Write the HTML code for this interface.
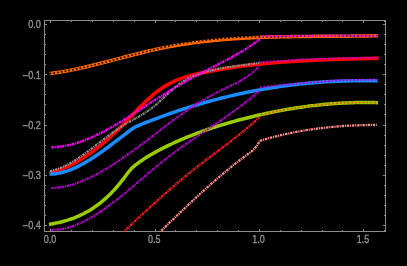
<!DOCTYPE html>
<html><head><meta charset="utf-8"><style>
html,body{margin:0;padding:0;background:#000;width:407px;height:266px;overflow:hidden}
svg{display:block}
text{font-family:"Liberation Sans",sans-serif;font-size:10.2px;fill:#8c8c8c;stroke:#8c8c8c;stroke-width:0.4}
</style></head><body>
<svg width="407" height="266" viewBox="0 0 407 266">
<rect width="407" height="266" fill="#000"/>
<g stroke="#8c8c8c" stroke-width="1" fill="none">
<rect x="44.5" y="20.5" width="341.0" height="211.0"/>
<line x1="50.5" y1="231.5" x2="50.5" y2="229.0"/>
<line x1="50.5" y1="20.5" x2="50.5" y2="23.0"/>
<line x1="71.5" y1="231.5" x2="71.5" y2="230.0"/>
<line x1="71.5" y1="20.5" x2="71.5" y2="22.0"/>
<line x1="92.5" y1="231.5" x2="92.5" y2="230.0"/>
<line x1="92.5" y1="20.5" x2="92.5" y2="22.0"/>
<line x1="113.5" y1="231.5" x2="113.5" y2="230.0"/>
<line x1="113.5" y1="20.5" x2="113.5" y2="22.0"/>
<line x1="134.5" y1="231.5" x2="134.5" y2="230.0"/>
<line x1="134.5" y1="20.5" x2="134.5" y2="22.0"/>
<line x1="155.5" y1="231.5" x2="155.5" y2="229.0"/>
<line x1="155.5" y1="20.5" x2="155.5" y2="23.0"/>
<line x1="175.5" y1="231.5" x2="175.5" y2="230.0"/>
<line x1="175.5" y1="20.5" x2="175.5" y2="22.0"/>
<line x1="196.5" y1="231.5" x2="196.5" y2="230.0"/>
<line x1="196.5" y1="20.5" x2="196.5" y2="22.0"/>
<line x1="217.5" y1="231.5" x2="217.5" y2="230.0"/>
<line x1="217.5" y1="20.5" x2="217.5" y2="22.0"/>
<line x1="238.5" y1="231.5" x2="238.5" y2="230.0"/>
<line x1="238.5" y1="20.5" x2="238.5" y2="22.0"/>
<line x1="259.5" y1="231.5" x2="259.5" y2="229.0"/>
<line x1="259.5" y1="20.5" x2="259.5" y2="23.0"/>
<line x1="280.5" y1="231.5" x2="280.5" y2="230.0"/>
<line x1="280.5" y1="20.5" x2="280.5" y2="22.0"/>
<line x1="301.5" y1="231.5" x2="301.5" y2="230.0"/>
<line x1="301.5" y1="20.5" x2="301.5" y2="22.0"/>
<line x1="322.5" y1="231.5" x2="322.5" y2="230.0"/>
<line x1="322.5" y1="20.5" x2="322.5" y2="22.0"/>
<line x1="342.5" y1="231.5" x2="342.5" y2="230.0"/>
<line x1="342.5" y1="20.5" x2="342.5" y2="22.0"/>
<line x1="363.5" y1="231.5" x2="363.5" y2="229.0"/>
<line x1="363.5" y1="20.5" x2="363.5" y2="23.0"/>
<line x1="384.5" y1="231.5" x2="384.5" y2="230.0"/>
<line x1="384.5" y1="20.5" x2="384.5" y2="22.0"/>
<line x1="44.5" y1="225.5" x2="47.0" y2="225.5"/>
<line x1="385.5" y1="225.5" x2="383.0" y2="225.5"/>
<line x1="44.5" y1="215.5" x2="46.0" y2="215.5"/>
<line x1="385.5" y1="215.5" x2="384.0" y2="215.5"/>
<line x1="44.5" y1="205.5" x2="46.0" y2="205.5"/>
<line x1="385.5" y1="205.5" x2="384.0" y2="205.5"/>
<line x1="44.5" y1="195.5" x2="46.0" y2="195.5"/>
<line x1="385.5" y1="195.5" x2="384.0" y2="195.5"/>
<line x1="44.5" y1="185.5" x2="46.0" y2="185.5"/>
<line x1="385.5" y1="185.5" x2="384.0" y2="185.5"/>
<line x1="44.5" y1="175.5" x2="47.0" y2="175.5"/>
<line x1="385.5" y1="175.5" x2="383.0" y2="175.5"/>
<line x1="44.5" y1="165.5" x2="46.0" y2="165.5"/>
<line x1="385.5" y1="165.5" x2="384.0" y2="165.5"/>
<line x1="44.5" y1="155.5" x2="46.0" y2="155.5"/>
<line x1="385.5" y1="155.5" x2="384.0" y2="155.5"/>
<line x1="44.5" y1="145.5" x2="46.0" y2="145.5"/>
<line x1="385.5" y1="145.5" x2="384.0" y2="145.5"/>
<line x1="44.5" y1="135.5" x2="46.0" y2="135.5"/>
<line x1="385.5" y1="135.5" x2="384.0" y2="135.5"/>
<line x1="44.5" y1="125.5" x2="47.0" y2="125.5"/>
<line x1="385.5" y1="125.5" x2="383.0" y2="125.5"/>
<line x1="44.5" y1="114.5" x2="46.0" y2="114.5"/>
<line x1="385.5" y1="114.5" x2="384.0" y2="114.5"/>
<line x1="44.5" y1="104.5" x2="46.0" y2="104.5"/>
<line x1="385.5" y1="104.5" x2="384.0" y2="104.5"/>
<line x1="44.5" y1="94.5" x2="46.0" y2="94.5"/>
<line x1="385.5" y1="94.5" x2="384.0" y2="94.5"/>
<line x1="44.5" y1="84.5" x2="46.0" y2="84.5"/>
<line x1="385.5" y1="84.5" x2="384.0" y2="84.5"/>
<line x1="44.5" y1="74.5" x2="47.0" y2="74.5"/>
<line x1="385.5" y1="74.5" x2="383.0" y2="74.5"/>
<line x1="44.5" y1="64.5" x2="46.0" y2="64.5"/>
<line x1="385.5" y1="64.5" x2="384.0" y2="64.5"/>
<line x1="44.5" y1="54.5" x2="46.0" y2="54.5"/>
<line x1="385.5" y1="54.5" x2="384.0" y2="54.5"/>
<line x1="44.5" y1="44.5" x2="46.0" y2="44.5"/>
<line x1="385.5" y1="44.5" x2="384.0" y2="44.5"/>
<line x1="44.5" y1="34.5" x2="46.0" y2="34.5"/>
<line x1="385.5" y1="34.5" x2="384.0" y2="34.5"/>
<line x1="44.5" y1="24.5" x2="47.0" y2="24.5"/>
<line x1="385.5" y1="24.5" x2="383.0" y2="24.5"/>
</g>
<g style="will-change:transform">
<text transform="translate(49.90 242.6) scale(0.88 1)" text-anchor="middle">0.0</text>
<text transform="translate(154.25 242.6) scale(0.88 1)" text-anchor="middle">0.5</text>
<text transform="translate(258.60 242.6) scale(0.88 1)" text-anchor="middle">1.0</text>
<text transform="translate(362.95 242.6) scale(0.88 1)" text-anchor="middle">1.5</text>
<text transform="translate(40.9 28.40) scale(0.9 1)" text-anchor="end">0.0</text>
<text transform="translate(40.9 78.65) scale(0.9 1)" text-anchor="end">−0.1</text>
<text transform="translate(40.9 128.90) scale(0.9 1)" text-anchor="end">−0.2</text>
<text transform="translate(40.9 179.15) scale(0.9 1)" text-anchor="end">−0.3</text>
<text transform="translate(40.9 229.40) scale(0.9 1)" text-anchor="end">−0.4</text>
</g>
<clipPath id="pc"><rect x="44.5" y="20.5" width="341" height="211"/></clipPath>
<g clip-path="url(#pc)">
<path d="M49.60 73.62 L51.60 73.36 L53.60 73.09 L55.60 72.81 L57.60 72.51 L59.60 72.19 L61.60 71.86 L63.60 71.52 L65.60 71.16 L67.60 70.79 L69.60 70.41 L71.60 70.01 L73.60 69.61 L75.60 69.19 L77.60 68.77 L79.60 68.33 L81.60 67.89 L83.60 67.43 L85.60 66.97 L87.60 66.50 L89.60 66.03 L91.60 65.54 L93.60 65.05 L95.60 64.56 L97.60 64.06 L99.60 63.55 L101.60 63.04 L103.60 62.53 L105.60 62.01 L107.60 61.49 L109.60 60.97 L111.60 60.45 L113.60 59.92 L115.60 59.39 L117.60 58.87 L119.60 58.34 L121.60 57.82 L123.60 57.29 L125.60 56.77 L127.60 56.25 L129.60 55.73 L131.60 55.22 L133.60 54.71 L135.60 54.20 L137.60 53.70 L139.60 53.20 L141.60 52.71 L143.60 52.22 L145.60 51.74 L147.60 51.27 L149.60 50.80 L151.60 50.35 L153.60 49.90 L155.60 49.46 L157.60 49.03 L159.60 48.61 L161.60 48.20 L163.60 47.80 L165.60 47.41 L167.60 47.03 L169.60 46.65 L171.60 46.29 L173.60 45.94 L175.60 45.59 L177.60 45.25 L179.60 44.92 L181.60 44.60 L183.60 44.29 L185.60 43.98 L187.60 43.69 L189.60 43.40 L191.60 43.12 L193.60 42.85 L195.60 42.58 L197.60 42.32 L199.60 42.07 L201.60 41.83 L203.60 41.59 L205.60 41.37 L207.60 41.14 L209.60 40.93 L211.60 40.72 L213.60 40.52 L215.60 40.32 L217.60 40.14 L219.60 39.95 L221.60 39.78 L223.60 39.61 L225.60 39.44 L227.60 39.28 L229.60 39.13 L231.60 38.98 L233.60 38.84 L235.60 38.71 L237.60 38.58 L239.60 38.45 L241.60 38.33 L243.60 38.21 L245.60 38.10 L247.60 37.99 L249.60 37.89 L251.60 37.80 L253.60 37.70 L255.60 37.61 L257.60 37.53 L259.60 37.45 L261.60 37.37 L263.60 37.30 L265.60 37.23 L267.60 37.16 L269.60 37.10 L271.60 37.04 L273.60 36.99 L275.60 36.93 L277.60 36.88 L279.60 36.84 L281.60 36.79 L283.60 36.75 L285.60 36.71 L287.60 36.68 L289.60 36.64 L291.60 36.61 L293.60 36.58 L295.60 36.55 L297.60 36.53 L299.60 36.50 L301.60 36.48 L303.60 36.46 L305.60 36.44 L307.60 36.42 L309.60 36.40 L311.60 36.39 L313.60 36.37 L315.60 36.36 L317.60 36.34 L319.60 36.33 L321.60 36.32 L323.60 36.30 L325.60 36.29 L327.60 36.28 L329.60 36.27 L331.60 36.26 L333.60 36.25 L335.60 36.23 L337.60 36.22 L339.60 36.21 L341.60 36.19 L343.60 36.18 L345.60 36.16 L347.60 36.15 L349.60 36.13 L351.60 36.11 L353.60 36.09 L355.60 36.07 L357.60 36.05 L359.60 36.02 L361.60 36.00 L363.60 35.97 L365.60 35.94 L367.60 35.91 L369.60 35.87 L371.60 35.83 L373.60 35.80 L375.60 35.75 L377.60 35.71 L378.10 35.70" stroke="#ff6600" stroke-width="3.5" fill="none" stroke-linejoin="round"/>
<path d="M49.60 73.62 L51.60 73.36 L53.60 73.09 L55.60 72.81 L57.60 72.51 L59.60 72.19 L61.60 71.86 L63.60 71.52 L65.60 71.16 L67.60 70.79 L69.60 70.41 L71.60 70.01 L73.60 69.61 L75.60 69.19 L77.60 68.77 L79.60 68.33 L81.60 67.89 L83.60 67.43 L85.60 66.97 L87.60 66.50 L89.60 66.03 L91.60 65.54 L93.60 65.05 L95.60 64.56 L97.60 64.06 L99.60 63.55 L101.60 63.04 L103.60 62.53 L105.60 62.01 L107.60 61.49 L109.60 60.97 L111.60 60.45 L113.60 59.92 L115.60 59.39 L117.60 58.87 L119.60 58.34 L121.60 57.82 L123.60 57.29 L125.60 56.77 L127.60 56.25 L129.60 55.73 L131.60 55.22 L133.60 54.71 L135.60 54.20 L137.60 53.70 L139.60 53.20 L141.60 52.71 L143.60 52.22 L145.60 51.74 L147.60 51.27 L149.60 50.80 L151.60 50.28 L153.60 49.74 L155.60 49.22 L157.60 48.70 L159.60 48.20 L161.60 47.70 L163.60 47.21 L165.60 46.73 L167.60 46.27 L169.60 45.81 L171.60 45.35 L173.60 44.91 L175.60 44.48 L177.60 44.06 L179.60 43.64 L181.60 43.30 L183.60 42.99 L185.60 42.68 L187.60 42.39 L189.60 42.10 L191.60 41.82 L193.60 41.55 L195.60 41.28 L197.60 41.02 L199.60 40.77 L201.60 40.53 L203.60 40.29 L205.60 40.07 L207.60 39.84 L209.60 39.63 L211.60 39.42 L213.60 39.22 L215.60 39.02 L217.60 38.84 L219.60 38.65 L221.60 38.48 L223.60 38.31 L225.60 38.14 L227.60 37.98 L229.60 37.83 L231.60 37.68 L233.60 37.54 L235.60 37.41 L237.60 37.28 L239.60 37.15 L241.60 37.03 L243.60 36.91 L245.60 36.80 L247.60 36.69 L249.60 36.59 L251.60 36.61 L253.60 36.67 L255.60 36.72 L257.60 36.79 L259.60 36.85 L261.60 36.92 L263.60 37.00 L265.60 37.03 L267.60 36.96 L269.60 36.90 L271.60 36.84 L273.60 36.79 L275.60 36.73 L277.60 36.68 L279.60 36.64 L281.60 36.59 L283.60 36.55 L285.60 36.51 L287.60 36.48 L289.60 36.44 L291.60 36.41 L293.60 36.38 L295.60 36.35 L297.60 36.33 L299.60 36.30 L301.60 36.28 L303.60 36.26 L305.60 36.24 L307.60 36.22 L309.60 36.20 L311.60 36.19 L313.60 36.17 L315.60 36.16 L317.60 36.14 L319.60 36.13 L321.60 36.12 L323.60 36.10 L325.60 36.09 L327.60 36.08 L329.60 36.07 L331.60 36.06 L333.60 36.05 L335.60 36.03 L337.60 36.02 L339.60 36.01 L341.60 35.99 L343.60 35.98 L345.60 35.96 L347.60 35.95 L349.60 35.93 L351.60 35.91 L353.60 35.89 L355.60 35.87 L357.60 35.85 L359.60 35.82 L361.60 35.80 L363.60 35.77 L365.60 35.74 L367.60 35.71 L369.60 35.67 L371.60 35.63 L373.60 35.60 L375.60 35.55 L377.60 35.51 L378.10 35.50" stroke="#000" stroke-width="1.6" fill="none" stroke-dasharray="1.6 2.2"/>
<path d="M49.60 173.06 L51.60 172.53 L53.60 171.95 L55.60 171.32 L57.60 170.64 L59.60 169.92 L61.60 169.14 L63.60 168.32 L65.60 167.46 L67.60 166.55 L69.60 165.59 L71.60 164.59 L73.60 163.54 L75.60 162.45 L77.60 161.32 L79.60 160.14 L81.60 158.92 L83.60 157.66 L85.60 156.36 L87.60 155.01 L89.60 153.62 L91.60 152.20 L93.60 150.73 L95.60 149.22 L97.60 147.67 L99.60 146.08 L101.60 144.46 L103.60 142.79 L105.60 141.09 L107.60 139.35 L109.60 137.57 L111.60 135.76 L113.60 133.91 L115.60 132.03 L117.60 130.11 L119.60 128.15 L121.60 126.16 L123.60 124.14 L125.60 122.09 L127.60 120.02 L129.60 117.94 L131.60 115.85 L133.60 113.76 L135.60 111.68 L137.60 109.62 L139.60 107.57 L141.60 105.55 L143.60 103.57 L145.60 101.63 L147.60 99.74 L149.60 97.90 L151.60 96.12 L153.60 94.41 L155.60 92.78 L157.60 91.23 L159.60 89.77 L161.60 88.38 L163.60 87.08 L165.60 85.85 L167.60 84.69 L169.60 83.61 L171.60 82.58 L173.60 81.63 L175.60 80.73 L177.60 79.88 L179.60 79.09 L181.60 78.35 L183.60 77.66 L185.60 77.01 L187.60 76.39 L189.60 75.82 L191.60 75.28 L193.60 74.76 L195.60 74.28 L197.60 73.82 L199.60 73.37 L201.60 72.95 L203.60 72.54 L205.60 72.14 L207.60 71.74 L209.60 71.36 L211.60 70.98 L213.60 70.61 L215.60 70.25 L217.60 69.90 L219.60 69.56 L221.60 69.22 L223.60 68.89 L225.60 68.57 L227.60 68.25 L229.60 67.95 L231.60 67.64 L233.60 67.35 L235.60 67.07 L237.60 66.79 L239.60 66.51 L241.60 66.25 L243.60 65.99 L245.60 65.73 L247.60 65.49 L249.60 65.25 L251.60 65.01 L253.60 64.78 L255.60 64.56 L257.60 64.35 L259.60 64.14 L261.60 63.93 L263.60 63.73 L265.60 63.54 L267.60 63.35 L269.60 63.17 L271.60 62.99 L273.60 62.81 L275.60 62.65 L277.60 62.48 L279.60 62.32 L281.60 62.17 L283.60 62.02 L285.60 61.88 L287.60 61.74 L289.60 61.60 L291.60 61.47 L293.60 61.34 L295.60 61.22 L297.60 61.10 L299.60 60.98 L301.60 60.87 L303.60 60.76 L305.60 60.65 L307.60 60.55 L309.60 60.45 L311.60 60.35 L313.60 60.26 L315.60 60.17 L317.60 60.09 L319.60 60.00 L321.60 59.92 L323.60 59.84 L325.60 59.76 L327.60 59.69 L329.60 59.62 L331.60 59.55 L333.60 59.48 L335.60 59.42 L337.60 59.35 L339.60 59.29 L341.60 59.23 L343.60 59.17 L345.60 59.11 L347.60 59.06 L349.60 59.00 L351.60 58.95 L353.60 58.90 L355.60 58.85 L357.60 58.80 L359.60 58.75 L361.60 58.70 L363.60 58.65 L365.60 58.60 L367.60 58.55 L369.60 58.51 L371.60 58.46 L373.60 58.41 L375.60 58.36 L377.60 58.32 L378.50 58.30" stroke="#ff0000" stroke-width="3.6" fill="none" stroke-linejoin="round"/>
<path d="M50.00 171.01 L52.00 170.61 L54.00 170.11 L56.00 169.52 L58.00 168.85 L60.00 168.10 L62.00 167.26 L64.00 166.36 L66.00 165.39 L68.00 164.35 L70.00 163.25 L72.00 162.09 L74.00 160.88 L76.00 159.62 L78.00 158.31 L80.00 156.97 L82.00 155.58 L84.00 154.16 L86.00 152.72 L88.00 151.25 L90.00 149.75 L92.00 148.24 L94.00 146.72 L96.00 145.18 L98.00 143.64 L100.00 142.10 L102.00 140.57 L104.00 139.03 L106.00 137.51 L108.00 136.01 L110.00 134.52 L112.00 133.06 L114.00 131.62 L116.00 130.21 L118.00 128.84 L120.00 127.50 L122.00 126.21 L124.00 124.97 L126.00 123.77 L128.00 122.60 L130.00 121.47 L132.00 120.35 L134.00 119.24 L136.00 118.13 L138.00 117.00 L140.00 115.86 L142.00 114.68 L144.00 113.46 L146.00 112.19 L148.00 110.87 L150.00 109.47 L152.00 107.99 L154.00 106.42 L156.00 104.76 L158.00 103.01 L160.00 101.18 L162.00 99.31 L164.00 97.40 L166.00 95.49 L168.00 93.59 L170.00 91.71 L172.00 89.90 L174.00 88.15 L176.00 86.49 L178.00 84.95 L180.00 83.51 L182.00 82.18 L184.00 80.94 L186.00 79.80 L188.00 78.73 L190.00 77.75 L192.00 76.83 L194.00 75.98 L196.00 75.18 L198.00 74.43 L200.00 73.72 L202.00 73.05 L204.00 72.42 L206.00 71.83 L208.00 71.27 L210.00 70.74 L212.00 70.24 L214.00 69.77 L216.00 69.32 L218.00 68.90 L220.00 68.50 L222.00 68.13 L224.00 67.77 L226.00 67.44 L228.00 67.12 L230.00 66.81 L232.00 66.52 L234.00 66.24 L236.00 65.97 L238.00 65.71 L240.00 65.45 L242.00 65.20 L244.00 64.95 L246.00 64.70 L248.00 64.45 L250.00 64.20 L252.00 63.95 L254.00 63.69 L256.00 63.42 L258.00 63.14 L259.00 63.00" stroke="#909090" stroke-width="2.2" fill="none" stroke-dasharray="2.4 0.8 1.2 0.8"/>
<path d="M49.60 174.20 L51.60 174.08 L53.60 173.92 L55.60 173.69 L57.60 173.39 L59.60 173.01 L61.60 172.56 L63.60 172.03 L65.60 171.44 L67.60 170.79 L69.60 170.07 L71.60 169.29 L73.60 168.45 L75.60 167.55 L77.60 166.60 L79.60 165.60 L81.60 164.55 L83.60 163.45 L85.60 162.31 L87.60 161.12 L89.60 159.90 L91.60 158.64 L93.60 157.34 L95.60 156.01 L97.60 154.65 L99.60 153.27 L101.60 151.85 L103.60 150.42 L105.60 148.96 L107.60 147.49 L109.60 146.00 L111.60 144.49 L113.60 142.97 L115.60 141.45 L117.60 139.92 L119.60 138.38 L121.60 136.84 L123.60 135.30 L125.60 133.77 L127.60 132.24 L129.60 130.72 L131.60 129.27 L133.60 127.95 L135.60 126.84 L137.60 125.90 L139.60 125.06 L141.60 124.25 L143.60 123.44 L145.60 122.64 L147.60 121.85 L149.60 121.07 L151.60 120.30 L153.60 119.53 L155.60 118.77 L157.60 118.02 L159.60 117.28 L161.60 116.54 L163.60 115.81 L165.60 115.09 L167.60 114.38 L169.60 113.68 L171.60 112.98 L173.60 112.29 L175.60 111.61 L177.60 110.94 L179.60 110.27 L181.60 109.62 L183.60 108.97 L185.60 108.32 L187.60 107.69 L189.60 107.06 L191.60 106.44 L193.60 105.83 L195.60 105.23 L197.60 104.63 L199.60 104.04 L201.60 103.46 L203.60 102.89 L205.60 102.32 L207.60 101.76 L209.60 101.21 L211.60 100.67 L213.60 100.13 L215.60 99.61 L217.60 99.09 L219.60 98.57 L221.60 98.07 L223.60 97.57 L225.60 97.08 L227.60 96.59 L229.60 96.12 L231.60 95.65 L233.60 95.19 L235.60 94.74 L237.60 94.29 L239.60 93.85 L241.60 93.42 L243.60 93.00 L245.60 92.58 L247.60 92.17 L249.60 91.77 L251.60 91.37 L253.60 90.99 L255.60 90.61 L257.60 90.24 L259.60 89.87 L261.60 89.51 L263.60 89.16 L265.60 88.82 L267.60 88.48 L269.60 88.15 L271.60 87.83 L273.60 87.52 L275.60 87.21 L277.60 86.91 L279.60 86.62 L281.60 86.33 L283.60 86.06 L285.60 85.78 L287.60 85.52 L289.60 85.26 L291.60 85.02 L293.60 84.77 L295.60 84.54 L297.60 84.31 L299.60 84.09 L301.60 83.87 L303.60 83.67 L305.60 83.47 L307.60 83.28 L309.60 83.09 L311.60 82.91 L313.60 82.74 L315.60 82.57 L317.60 82.42 L319.60 82.27 L321.60 82.12 L323.60 81.99 L325.60 81.86 L327.60 81.73 L329.60 81.62 L331.60 81.51 L333.60 81.41 L335.60 81.31 L337.60 81.23 L339.60 81.14 L341.60 81.07 L343.60 81.00 L345.60 80.94 L347.60 80.89 L349.60 80.84 L351.60 80.80 L353.60 80.77 L355.60 80.74 L357.60 80.72 L359.60 80.71 L361.60 80.70 L363.60 80.71 L365.60 80.71 L367.60 80.73 L369.60 80.75 L371.60 80.78 L373.60 80.81 L375.60 80.85 L377.60 80.90 L377.60 80.90" stroke="#1a8cff" stroke-width="3.5" fill="none" stroke-linejoin="round"/>
<path d="M49.00 224.42 L51.00 224.07 L53.00 223.70 L55.00 223.32 L57.00 222.90 L59.00 222.46 L61.00 221.98 L63.00 221.46 L65.00 220.91 L67.00 220.33 L69.00 219.70 L71.00 219.02 L73.00 218.31 L75.00 217.54 L77.00 216.72 L79.00 215.86 L81.00 214.94 L83.00 213.96 L85.00 212.92 L87.00 211.83 L89.00 210.67 L91.00 209.45 L93.00 208.16 L95.00 206.80 L97.00 205.38 L99.00 203.87 L101.00 202.30 L103.00 200.64 L105.00 198.91 L107.00 197.10 L109.00 195.20 L111.00 193.22 L113.00 191.14 L115.00 188.98 L117.00 186.73 L119.00 184.38 L121.00 181.94 L123.00 179.40 L125.00 176.76 L127.00 174.07 L129.00 171.44 L131.00 169.09 L133.00 167.10 L135.00 165.40 L137.00 163.86 L139.00 162.39 L141.00 160.98 L143.00 159.62 L145.00 158.31 L147.00 157.04 L149.00 155.82 L151.00 154.64 L153.00 153.49 L155.00 152.37 L157.00 151.27 L159.00 150.21 L161.00 149.16 L163.00 148.13 L165.00 147.13 L167.00 146.14 L169.00 145.17 L171.00 144.21 L173.00 143.28 L175.00 142.36 L177.00 141.45 L179.00 140.57 L181.00 139.69 L183.00 138.84 L185.00 138.00 L187.00 137.17 L189.00 136.36 L191.00 135.57 L193.00 134.79 L195.00 134.02 L197.00 133.26 L199.00 132.52 L201.00 131.79 L203.00 131.08 L205.00 130.38 L207.00 129.69 L209.00 129.01 L211.00 128.34 L213.00 127.68 L215.00 127.03 L217.00 126.40 L219.00 125.77 L221.00 125.16 L223.00 124.55 L225.00 123.96 L227.00 123.37 L229.00 122.79 L231.00 122.22 L233.00 121.66 L235.00 121.10 L237.00 120.55 L239.00 120.01 L241.00 119.48 L243.00 118.96 L245.00 118.44 L247.00 117.93 L249.00 117.43 L251.00 116.94 L253.00 116.45 L255.00 115.97 L257.00 115.50 L259.00 115.04 L261.00 114.59 L263.00 114.14 L265.00 113.70 L267.00 113.27 L269.00 112.85 L271.00 112.43 L273.00 112.02 L275.00 111.63 L277.00 111.23 L279.00 110.85 L281.00 110.48 L283.00 110.11 L285.00 109.75 L287.00 109.40 L289.00 109.06 L291.00 108.73 L293.00 108.40 L295.00 108.09 L297.00 107.78 L299.00 107.48 L301.00 107.19 L303.00 106.90 L305.00 106.63 L307.00 106.36 L309.00 106.11 L311.00 105.86 L313.00 105.62 L315.00 105.39 L317.00 105.16 L319.00 104.95 L321.00 104.74 L323.00 104.55 L325.00 104.36 L327.00 104.18 L329.00 104.01 L331.00 103.85 L333.00 103.70 L335.00 103.55 L337.00 103.42 L339.00 103.30 L341.00 103.18 L343.00 103.07 L345.00 102.97 L347.00 102.88 L349.00 102.80 L351.00 102.73 L353.00 102.67 L355.00 102.62 L357.00 102.58 L359.00 102.54 L361.00 102.52 L363.00 102.51 L365.00 102.50 L367.00 102.50 L369.00 102.52 L371.00 102.54 L373.00 102.57 L375.00 102.61 L377.00 102.66 L378.00 102.69" stroke="#99cc00" stroke-width="3.5" fill="none" stroke-linejoin="round"/>
<path d="M51.40 147.30 L53.40 147.24 L55.40 147.13 L57.40 146.97 L59.40 146.75 L61.40 146.49 L63.40 146.18 L65.40 145.82 L67.40 145.41 L69.40 144.96 L71.40 144.47 L73.40 143.93 L75.40 143.35 L77.40 142.73 L79.40 142.08 L81.40 141.38 L83.40 140.65 L85.40 139.88 L87.40 139.08 L89.40 138.24 L91.40 137.38 L93.40 136.48 L95.40 135.55 L97.40 134.60 L99.40 133.61 L101.40 132.60 L103.40 131.57 L105.40 130.51 L107.40 129.43 L109.40 128.32 L111.40 127.20 L113.40 126.06 L115.40 124.90 L117.40 123.72 L119.40 122.53 L121.40 121.32 L123.40 120.10 L125.40 118.87 L127.40 117.62 L129.40 116.37 L131.40 115.10 L133.40 113.83 L135.40 112.56 L137.40 111.28 L139.40 109.99 L141.40 108.70 L143.40 107.41 L145.40 106.12 L147.40 104.83 L149.40 103.54 L151.40 102.25 L153.40 100.97 L155.40 99.70 L157.40 98.43 L159.40 97.17 L161.40 95.91 L163.40 94.67 L165.40 93.44 L167.40 92.21 L169.40 91.00 L171.40 89.80 L173.40 88.60 L175.40 87.42 L177.40 86.24 L179.40 85.08 L181.40 83.92 L183.40 82.78 L185.40 81.65 L187.40 80.52 L189.40 79.40 L191.40 78.30 L193.40 77.20 L195.40 76.12 L197.40 75.04 L199.40 73.97 L201.40 72.92 L203.40 71.87 L205.40 70.83 L207.40 69.80 L209.40 68.78 L211.40 67.76 L213.40 66.75 L215.40 65.73 L217.40 64.72 L219.40 63.70 L221.40 62.68 L223.40 61.64 L225.40 60.60 L227.40 59.55 L229.40 58.48 L231.40 57.40 L233.40 56.30 L235.40 55.18 L237.40 54.04 L239.40 52.87 L241.40 51.67 L243.40 50.45 L245.40 49.20 L247.40 47.92 L249.40 46.60 L251.40 45.24 L253.40 43.85 L255.40 42.41 L257.40 40.93 L259.40 39.41 L259.90 39.02" stroke="#ff00ff" stroke-width="2.4" fill="none" stroke-dasharray="2.4 0.8 1.2 0.8"/>
<path d="M261.60 36.41 L263.60 36.36 L265.60 36.32 L267.60 36.29 L269.60 36.25 L271.60 36.22 L273.60 36.19 L275.60 36.17 L277.60 36.15 L279.60 36.13 L281.60 36.10 L283.60 36.07 L285.60 36.05 L287.60 36.02 L289.60 36.00 L291.60 35.98 L293.60 35.96 L295.60 35.95 L297.60 35.93 L299.60 35.92 L301.60 35.91 L303.60 35.90 L305.60 35.89 L307.60 35.89 L309.60 35.88 L311.60 35.88 L313.60 35.88 L315.60 35.87 L317.60 35.87 L319.60 35.87 L321.60 35.87 L323.60 35.87 L325.60 35.87 L327.60 35.87 L329.60 35.87 L331.60 35.87 L333.60 35.87 L335.60 35.87 L337.60 35.87 L339.60 35.87 L341.60 35.87 L343.60 35.87 L345.60 35.87 L347.60 35.86 L349.60 35.86 L351.60 35.85 L353.60 35.84 L355.60 35.83 L357.60 35.82 L359.60 35.81 L361.60 35.80 L363.60 35.78 L365.60 35.76 L367.60 35.74 L369.60 35.72 L371.60 35.70 L373.60 35.67 L375.60 35.64 L377.60 35.61 L378.10 35.60" stroke="#ff00ff" stroke-width="2.0" fill="none" stroke-dasharray="2 1.6"/>
<path d="M51.40 188.01 L53.40 187.93 L55.40 187.80 L57.40 187.60 L59.40 187.36 L61.40 187.06 L63.40 186.71 L65.40 186.31 L67.40 185.86 L69.40 185.36 L71.40 184.81 L73.40 184.22 L75.40 183.58 L77.40 182.90 L79.40 182.17 L81.40 181.40 L83.40 180.59 L85.40 179.74 L87.40 178.86 L89.40 177.93 L91.40 176.97 L93.40 175.97 L95.40 174.94 L97.40 173.88 L99.40 172.79 L101.40 171.66 L103.40 170.51 L105.40 169.32 L107.40 168.11 L109.40 166.88 L111.40 165.61 L113.40 164.33 L115.40 163.02 L117.40 161.69 L119.40 160.34 L121.40 158.97 L123.40 157.58 L125.40 156.18 L127.40 154.76 L129.40 153.32 L131.40 151.87 L133.40 150.41 L135.40 148.93 L137.40 147.45 L139.40 145.96 L141.40 144.45 L143.40 142.95 L145.40 141.43 L147.40 139.91 L149.40 138.39 L151.40 136.87 L153.40 135.34 L155.40 133.81 L157.40 132.29 L159.40 130.76 L161.40 129.24 L163.40 127.73 L165.40 126.21 L167.40 124.71 L169.40 123.21 L171.40 121.72 L173.40 120.24 L175.40 118.78 L177.40 117.32 L179.40 115.88 L181.40 114.45 L183.40 113.04 L185.40 111.64 L187.40 110.26 L189.40 108.90 L191.40 107.56 L193.40 106.24 L195.40 104.94 L197.40 103.66 L199.40 102.41 L201.40 101.19 L203.40 99.99 L205.40 98.82 L207.40 97.67 L209.40 96.56 L211.40 95.46 L213.40 94.39 L215.40 93.33 L217.40 92.30 L219.40 91.28 L221.40 90.27 L223.40 89.28 L225.40 88.30 L227.40 87.32 L229.40 86.35 L231.40 85.39 L233.40 84.42 L235.40 83.43 L237.40 82.42 L239.40 81.36 L241.40 80.26 L243.40 79.09 L245.40 77.84 L247.40 76.52 L249.40 75.09 L251.40 73.55 L253.40 71.90 L255.40 70.11 L257.40 68.17 L259.00 66.52" stroke="#b800d0" stroke-width="2.2" fill="none" stroke-dasharray="2.4 0.8 1.2 0.8"/>
<path d="M259.00 62.30 L300.00 59.60 L340.00 58.20 L378.50 57.60" stroke="#b800d0" stroke-width="2.0" fill="none" stroke-dasharray="2 1.6"/>
<path d="M51.40 229.81 L53.40 229.80 L55.40 229.72 L57.40 229.56 L59.40 229.33 L61.40 229.03 L63.40 228.67 L65.40 228.23 L67.40 227.74 L69.40 227.18 L71.40 226.55 L73.40 225.87 L75.40 225.13 L77.40 224.34 L79.40 223.49 L81.40 222.58 L83.40 221.63 L85.40 220.63 L87.40 219.58 L89.40 218.48 L91.40 217.34 L93.40 216.15 L95.40 214.93 L97.40 213.66 L99.40 212.36 L101.40 211.02 L103.40 209.65 L105.40 208.24 L107.40 206.81 L109.40 205.34 L111.40 203.85 L113.40 202.33 L115.40 200.79 L117.40 199.22 L119.40 197.64 L121.40 196.03 L123.40 194.41 L125.40 192.77 L127.40 191.12 L129.40 189.46 L131.40 187.78 L133.40 186.10 L135.40 184.41 L137.40 182.71 L139.40 181.01 L141.40 179.31 L143.40 177.60 L145.40 175.90 L147.40 174.20 L149.40 172.50 L151.40 170.82 L153.40 169.14 L155.40 167.46 L157.40 165.80 L159.40 164.16 L161.40 162.52 L163.40 160.91 L165.40 159.31 L167.40 157.73 L169.40 156.18 L171.40 154.64 L173.40 153.13 L175.40 151.63 L177.40 150.16 L179.40 148.70 L181.40 147.26 L183.40 145.83 L185.40 144.41 L187.40 143.01 L189.40 141.62 L191.40 140.24 L193.40 138.87 L195.40 137.51 L197.40 136.15 L199.40 134.80 L201.40 133.46 L203.40 132.11 L205.40 130.77 L207.40 129.43 L209.40 128.09 L211.40 126.75 L213.40 125.40 L215.40 124.05 L217.40 122.70 L219.40 121.34 L221.40 119.97 L223.40 118.59 L225.40 117.20 L227.40 115.80 L229.40 114.39 L231.40 112.96 L233.40 111.52 L235.40 110.07 L237.40 108.59 L239.40 107.10 L241.40 105.59 L243.40 104.06 L245.40 102.51 L247.40 100.93 L249.40 99.33 L251.40 97.70 L253.40 96.05 L255.40 94.37 L257.40 92.66 L259.40 90.92 L259.80 90.56" stroke="#b800d0" stroke-width="2.2" fill="none" stroke-dasharray="2.4 0.8 1.2 0.8"/>
<path d="M259.80 87.50 L280.00 85.00 L304.80 83.00 L340.00 80.20 L378.50 79.50" stroke="#b800d0" stroke-width="2.0" fill="none" stroke-dasharray="2 1.6"/>
<path d="M123.00 232.50 L125.00 230.58 L127.00 228.67 L129.00 226.77 L131.00 224.87 L133.00 222.98 L135.00 221.09 L137.00 219.21 L139.00 217.34 L141.00 215.47 L143.00 213.61 L145.00 211.75 L147.00 209.91 L149.00 208.07 L151.00 206.24 L153.00 204.42 L155.00 202.60 L157.00 200.80 L159.00 199.00 L161.00 197.21 L163.00 195.43 L165.00 193.67 L167.00 191.91 L169.00 190.16 L171.00 188.42 L173.00 186.70 L175.00 184.98 L177.00 183.28 L179.00 181.59 L181.00 179.91 L183.00 178.24 L185.00 176.58 L187.00 174.94 L189.00 173.31 L191.00 171.69 L193.00 170.09 L195.00 168.50 L197.00 166.92 L199.00 165.36 L201.00 163.81 L203.00 162.28 L205.00 160.75 L207.00 159.23 L209.00 157.71 L211.00 156.21 L213.00 154.70 L215.00 153.20 L217.00 151.70 L219.00 150.19 L221.00 148.69 L223.00 147.18 L225.00 145.67 L227.00 144.14 L229.00 142.61 L231.00 141.07 L233.00 139.52 L235.00 137.96 L237.00 136.38 L239.00 134.79 L241.00 133.17 L243.00 131.54 L245.00 129.89 L247.00 128.22 L249.00 126.52 L251.00 124.80 L253.00 123.05 L255.00 121.27 L257.00 119.46 L259.00 117.63 L259.30 117.35" stroke="#ff1a1a" stroke-width="2.3" fill="none" stroke-dasharray="2.4 0.8 1.2 0.8"/>
<path d="M261.00 114.59 L263.00 114.14 L265.00 113.70 L267.00 113.27 L269.00 112.85 L271.00 112.43 L273.00 112.02 L275.00 111.63 L277.00 111.23 L279.00 110.85 L281.00 110.48 L283.00 110.11 L285.00 109.75 L287.00 109.40 L289.00 109.06 L291.00 108.73 L293.00 108.40 L295.00 108.09 L297.00 107.78 L299.00 107.48 L301.00 107.19 L303.00 106.90 L305.00 106.63 L307.00 106.36 L309.00 106.11 L311.00 105.86 L313.00 105.62 L315.00 105.39 L317.00 105.16 L319.00 104.95 L321.00 104.74 L323.00 104.55 L325.00 104.36 L327.00 104.18 L329.00 104.01 L331.00 103.85 L333.00 103.70 L335.00 103.55 L337.00 103.42 L339.00 103.30 L341.00 103.18 L343.00 103.07 L345.00 102.97 L347.00 102.88 L349.00 102.80 L351.00 102.73 L353.00 102.67 L355.00 102.62 L357.00 102.58 L359.00 102.54 L361.00 102.52 L363.00 102.51 L365.00 102.50 L367.00 102.50 L369.00 102.52 L371.00 102.54 L373.00 102.57 L375.00 102.61 L377.00 102.66 L378.00 102.69" stroke="#ff4010" stroke-width="1.6" fill="none" stroke-dasharray="1.6 2.2"/>
<path d="M150.00 241.50 L152.00 239.58 L154.00 237.67 L156.00 235.75 L158.00 233.83 L160.00 231.90 L162.00 229.98 L164.00 228.06 L166.00 226.13 L168.00 224.21 L170.00 222.29 L172.00 220.37 L174.00 218.46 L176.00 216.54 L178.00 214.63 L180.00 212.73 L182.00 210.83 L184.00 208.93 L186.00 207.04 L188.00 205.15 L190.00 203.27 L192.00 201.40 L194.00 199.54 L196.00 197.68 L198.00 195.84 L200.00 194.00 L202.00 192.17 L204.00 190.36 L206.00 188.55 L208.00 186.75 L210.00 184.97 L212.00 183.20 L214.00 181.44 L216.00 179.70 L218.00 177.97 L220.00 176.25 L222.00 174.55 L224.00 172.87 L226.00 171.20 L228.00 169.54 L230.00 167.91 L232.00 166.29 L234.00 164.69 L236.00 163.11 L238.00 161.55 L240.00 160.00 L242.00 158.48 L244.00 156.98 L246.00 155.50 L248.00 154.04 L250.00 152.61 L252.00 151.19 L256.30 146.50 L259.90 140.90" stroke="#ff8c8c" stroke-width="2.3" fill="none" stroke-dasharray="2.4 0.8 1.2 0.8"/>
<path d="M259.90 140.87 L261.90 140.26 L263.90 139.66 L265.90 139.08 L267.90 138.52 L269.90 137.96 L271.90 137.42 L273.90 136.90 L275.90 136.39 L277.90 135.89 L279.90 135.40 L281.90 134.93 L283.90 134.47 L285.90 134.02 L287.90 133.59 L289.90 133.17 L291.90 132.76 L293.90 132.36 L295.90 131.98 L297.90 131.61 L299.90 131.25 L301.90 130.90 L303.90 130.56 L305.90 130.23 L307.90 129.92 L309.90 129.61 L311.90 129.32 L313.90 129.04 L315.90 128.77 L317.90 128.51 L319.90 128.26 L321.90 128.02 L323.90 127.79 L325.90 127.57 L327.90 127.36 L329.90 127.16 L331.90 126.97 L333.90 126.79 L335.90 126.61 L337.90 126.45 L339.90 126.30 L341.90 126.15 L343.90 126.02 L345.90 125.89 L347.90 125.77 L349.90 125.66 L351.90 125.56 L353.90 125.46 L355.90 125.37 L357.90 125.29 L359.90 125.22 L361.90 125.16 L363.90 125.10 L365.90 125.05 L367.90 125.01 L369.90 124.97 L371.90 124.94 L373.90 124.92 L375.90 124.90 L376.80 124.90" stroke="#ff8c8c" stroke-width="2.3" fill="none" stroke-dasharray="2.4 0.8 1.2 0.8"/>
</g>
</svg>
</body></html>
